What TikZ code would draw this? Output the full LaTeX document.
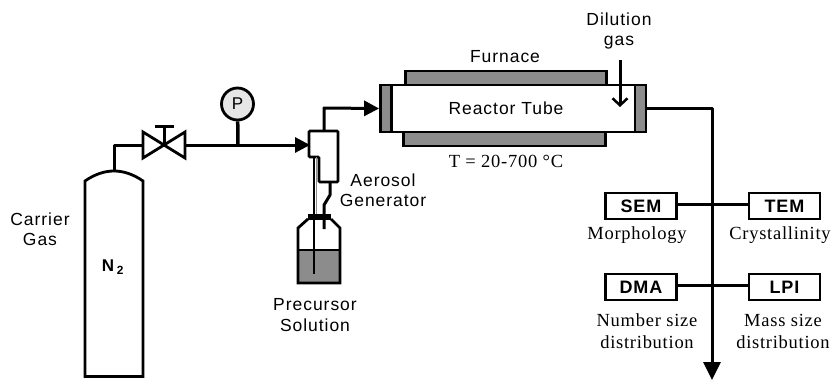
\documentclass[tikz,border=0pt]{standalone}
\usepackage{fontspec}
\setmainfont{Liberation Serif}[LetterSpace=4]
\setsansfont{Liberation Sans}[LetterSpace=5.5]
\usetikzlibrary{arrows.meta,calc}
\definecolor{fillgray}{HTML}{8C8C8C}
\definecolor{gaugegray}{HTML}{E6E6E6}
\tikzset{
  x=1pt,y=-1pt,
  pipe/.style={line width=3pt,line join=round},
  flow/.style={pipe,-{Triangle[length=15pt,width=15pt]}},
  outline/.style={draw=black,line width=2.8pt,line join=miter},
  grayblock/.style={outline,fill=fillgray,inner sep=0pt,minimum width=#1},
  instr/.style={outline,fill=white,inner sep=0pt,minimum width=71pt,minimum height=26pt,font=\sffamily\bfseries\fontsize{18}{18}\selectfont},
  sanslabel/.style={inner sep=0pt,align=center,font=\sffamily\fontsize{17.5}{20.5}\selectfont},
  seriflabel/.style={inner sep=0pt,align=center,font=\rmfamily\fontsize{18.5}{22}\selectfont},
}
\begin{document}
\begin{tikzpicture}
\useasboundingbox (0,0) rectangle (831,381);
% cylinder
\coordinate (cylTop) at (114,171);
\draw[outline] (85,181) .. controls (95,174) and (105,171) .. (cylTop) .. controls (123,171) and (133,174) .. (143,181) -- (143,376.5) -- (85,376.5) -- cycle;
\node[inner sep=0pt,font=\sffamily\bfseries\fontsize{17}{17}\selectfont] (n2) at (113,267) {N\,\textsubscript{2}};
\node[sanslabel] (carrier) at (40,229) {Carrier\\Gas};
% valve
\coordinate (valveC) at (164,145);
\coordinate (valveL) at (143,145);
\coordinate (valveR) at (185,145);
\draw[outline] (valveL |- 0,132) -- (valveC) -- (valveR |- 0,132) -- (valveR |- 0,158) -- (valveC) -- (valveL |- 0,158) -- cycle;
\coordinate (stemTop) at (164,126);
\draw[pipe] (valveC) -- (stemTop);
\draw[pipe] (155,126) -- (174,126);
\draw[pipe] (cylTop) -- (114,145) -- (valveL);
% gauge
\node[circle,outline,fill=gaugegray,minimum size=32pt,inner sep=0pt,font=\sffamily\fontsize{17}{17}\selectfont] (gauge) at (237.5,104) {P};
\coordinate (gaugeFoot) at (238,145);
\draw[pipe,line width=3.5pt] (gauge) -- (gaugeFoot);
% generator body
\coordinate (genIn) at (310,145);
\draw[flow] (valveR) -- (genIn);
\coordinate (genTop) at (324,131);
\draw[outline,rounded corners=1pt] (309,131) -- (338,131) -- (338,182) -- (319,182) -- (319,157) -- (309,157) -- cycle;
% bottle
\fill[fillgray] (298,250) rectangle (340,283);
\draw[outline] (308,219) -- (298,228) -- (298,283) -- (340,283) -- (340,228) -- (331,219);
\draw[line width=1.5pt] (298,250) -- (340,250);
\node[fill=black,minimum width=23pt,minimum height=6pt,inner sep=0pt] (cap) at (319.5,217) {};
% capillary and outlet
\draw[line width=1pt,draw=fillgray] (316.5,157) -- (316.5,214);
\draw[line width=2pt] (314.2,157) -- (314.2,274);
\draw[pipe] (330,182) -- (330,195) -- (324,205) -- (324,229);
% reactor
\node[grayblock=201pt,minimum height=14pt] (furnT) at (506,78) {};
\node[grayblock=202pt,minimum height=14pt] (furnB) at (504.5,139) {};
\node[outline,fill=white,minimum width=244pt,minimum height=47pt,inner sep=0pt] (tube) at (513.5,108.5) {};
\node[grayblock=11pt,minimum height=47pt] (flL) at (386,108.5) {};
\node[grayblock=11pt,minimum height=47pt] (flR) at (640.5,108.5) {};
\node[sanslabel] at (506,108) {Reactor Tube};
\node[sanslabel] at (505,57) {Furnace};
\node[seriflabel] at (506,161) {T = 20-700 °C};
\node[sanslabel] (dil) at (619,31) {Dilution\\gas};
\coordinate (dilStart) at (620,60);
\coordinate (dilEnd) at (620,107);
\draw[pipe,-{Straight Barb[length=7pt,width=15pt,line width=2.5pt]}] (dilStart) -- (dilEnd);
\draw[flow] (genTop) -- (324,108) -- (flL.west);
% main line
\coordinate (mainEnd) at (712,380);
\draw[pipe,-{Triangle[length=18pt,width=17pt]}] (flR.east) -- (712,108.5) -- (mainEnd);
% instruments
\node[instr] (sem) at (641,206) {SEM};
\node[instr] (tem) at (784.5,206) {TEM};
\node[instr] (dma) at (641,287) {DMA};
\node[instr] (lpi) at (784.5,287) {LPI};
\draw[pipe] (sem.east |- 0,204) -- (tem.west |- 0,204);
\draw[pipe] (dma.east |- 0,285) -- (lpi.west |- 0,285);
\node[seriflabel] at (637,235) {Morphology};
\node[seriflabel] at (780,235) {Crystallinity};
\node[seriflabel] at (647,331) {Number size\\distribution};
\node[seriflabel] at (783,331) {Mass size\\distribution};
\node[sanslabel] at (383,190) {Aerosol\\Generator};
\node[sanslabel] at (315,315) {Precursor\\Solution};
\end{tikzpicture}
\end{document}
